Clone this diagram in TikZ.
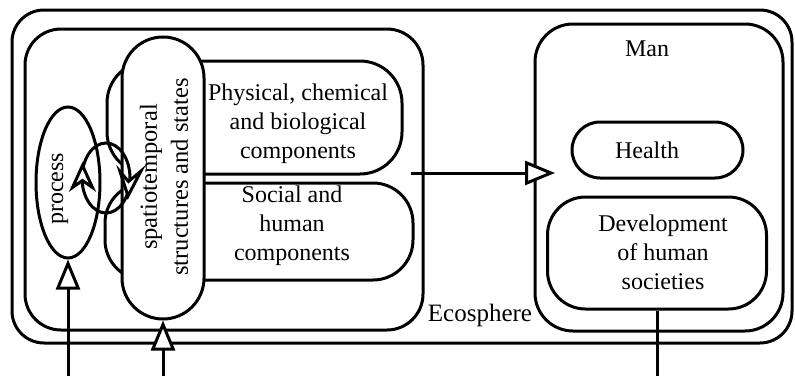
\documentclass[tikz,border=0pt]{standalone}
\usepackage{fontspec}
\setmainfont{Liberation Serif}
\usetikzlibrary{arrows.meta,shapes.geometric}
\begin{document}
\begin{tikzpicture}[x=1pt,y=1pt,
  lw/.style={line width=3pt},
  box/.style={draw, lw, rectangle, inner sep=0pt},
  txt/.style={font=\fontsize{24}{29}\selectfont, align=center, inner sep=0pt},
  openhead/.style={-{Triangle[open, length=30pt, width=24pt, fill=white]}},
  headshape/.style={draw, lw, fill=white, line join=miter},
]
\useasboundingbox (0,0) rectangle (795,376);
% containers
\node[box, minimum width=780pt, minimum height=333pt, rounded corners=32pt] (outer) at (402,199.5) {};
\node[box, minimum width=398pt, minimum height=301pt, rounded corners=36pt] (eco) at (224,196.5) {};
\node[box, minimum width=248pt, minimum height=307pt, rounded corners=38pt] (man) at (659,198.5) {};
\node[box, minimum width=171pt, minimum height=56pt, rounded corners=28pt] (health) at (657.5,226) {};
\node[box, minimum width=219pt, minimum height=112pt, rounded corners=38pt] (dev) at (657,123) {};
\node[box, minimum width=295pt, minimum height=113pt, rounded corners=42pt] (phys) at (254.5,258.5) {};
\node[box, minimum width=308pt, minimum height=97pt, rounded corners=40pt] (soc) at (259,144.5) {};
\node[box, fill=white, minimum width=82pt, minimum height=282pt, rounded corners=41pt] (spat) at (163,198) {};
\node[draw, lw, ellipse, inner sep=0pt, minimum width=64pt, minimum height=151pt] (proc) at (68,193.5) {};
% texts
\node[txt] (tman) at (647,327) {Man};
\node[txt] (thealth) at (647,226) {Health};
\node[txt] (tdev) at (663,124) {Development\\of human\\societies};
\node[txt] (tphys) at (298,252) {Physical, chemical\\and biological\\components};
\node[txt] (tsoc) at (292,150) {Social and\\human\\components};
\node[txt, font=\fontsize{25}{30}\selectfont] (teco) at (480,61) {Ecosphere};
\node[txt, rotate=90] (tproc) at (60,187) {process};
\node[txt, rotate=90, font=\fontsize{24.5}{31}\selectfont] (tspat) at (164,199) {spatiotemporal\\structures and states};
% loop with its two open arrowheads
\node[draw, lw, ellipse, inner sep=0pt, minimum width=48pt, minimum height=70pt] (loop) at (106,198) {};
\draw[headshape] (82.5,210.5) -- (72.5,188.5) -- (82.5,195.5) -- (92.5,188.5) -- cycle;
\draw[headshape] (128,180) -- (120,204.5) -- (128.5,194.5) -- (141,205) -- cycle;
% connectors
\coordinate (b1) at (68,0);
\coordinate (b2) at (163,0);
\coordinate (b3) at (657,0);
\coordinate (a1) at (411,203);
\coordinate (a2) at (555,203);
\draw[lw, openhead] (b1) -- (proc.south);
\draw[lw, openhead] (b2) -- (spat.south);
\draw[lw] (dev.south) -- (b3);
\draw[lw, openhead] (a1) -- (a2);
\end{tikzpicture}
\end{document}
